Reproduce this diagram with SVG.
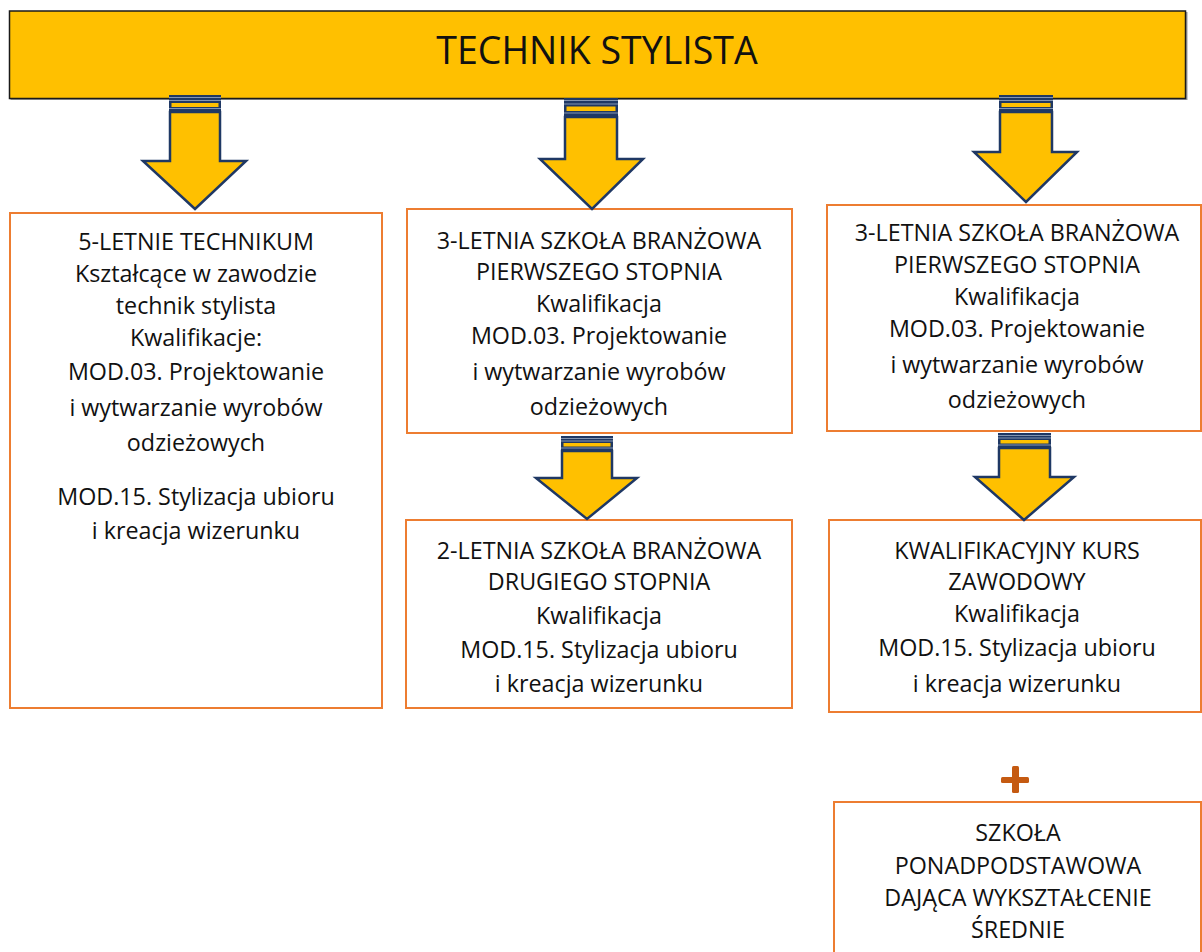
<svg xmlns="http://www.w3.org/2000/svg" width="1202" height="952" viewBox="0 0 1202 952">
<style>
.box{fill:#ffffff;stroke:#ed7d31;stroke-width:2}
.t{font-family:"Open Sans","Noto Sans",sans-serif;font-size:23.3px;fill:#111111;text-anchor:middle}
.title{font-family:"Open Sans","Noto Sans",sans-serif;font-size:37.5px;fill:#111111;text-anchor:middle}
.blk{fill:#1f3864}
.gl{stroke:#8fa0bb;stroke-width:0.9}
.ys{fill:#ffc000}
.shaft{fill:#ffc000;stroke:#1f3864;stroke-width:2.5;stroke-linejoin:miter}
</style>
<rect width="1202" height="952" fill="#ffffff"/>
<g id="title">
<rect x="10.5" y="12" width="1177" height="88" fill="#595959" opacity="0.6"/>
<rect x="9.5" y="11" width="1176" height="87.5" fill="#ffc000" stroke="#1a1a1a" stroke-width="1.5"/>
<text class="title" x="597" y="64">TECHNIK STYLISTA</text>
</g>
<g id="box1">
<rect class="box" x="10" y="213" width="372" height="495"/>
<text class="t" x="196" y="250">5-LETNIE TECHNIKUM</text>
<text class="t" x="196" y="282">Kształcące w zawodzie</text>
<text class="t" x="196" y="314">technik stylista</text>
<text class="t" x="196" y="346">Kwalifikacje:</text>
<text class="t" x="196" y="380">MOD.03. Projektowanie</text>
<text class="t" x="196" y="416">i wytwarzanie wyrobów</text>
<text class="t" x="196" y="451">odzieżowych</text>
<text class="t" x="196" y="505">MOD.15. Stylizacja ubioru</text>
<text class="t" x="196" y="539">i kreacja wizerunku</text>
</g>
<g id="box2">
<rect class="box" x="407" y="209" width="385" height="224"/>
<text class="t" x="599" y="249">3-LETNIA SZKOŁA BRANŻOWA</text>
<text class="t" x="599" y="280">PIERWSZEGO STOPNIA</text>
<text class="t" x="599" y="312">Kwalifikacja</text>
<text class="t" x="599" y="344">MOD.03. Projektowanie</text>
<text class="t" x="599" y="380">i wytwarzanie wyrobów</text>
<text class="t" x="599" y="415">odzieżowych</text>
</g>
<g id="box3">
<rect class="box" x="827" y="205" width="374" height="226"/>
<text class="t" x="1017" y="241">3-LETNIA SZKOŁA BRANŻOWA</text>
<text class="t" x="1017" y="273">PIERWSZEGO STOPNIA</text>
<text class="t" x="1017" y="305">Kwalifikacja</text>
<text class="t" x="1017" y="337">MOD.03. Projektowanie</text>
<text class="t" x="1017" y="373">i wytwarzanie wyrobów</text>
<text class="t" x="1017" y="408">odzieżowych</text>
</g>
<g id="box4">
<rect class="box" x="406" y="520" width="386" height="188"/>
<text class="t" x="599" y="559">2-LETNIA SZKOŁA BRANŻOWA</text>
<text class="t" x="599" y="590">DRUGIEGO STOPNIA</text>
<text class="t" x="599" y="624">Kwalifikacja</text>
<text class="t" x="599" y="658">MOD.15. Stylizacja ubioru</text>
<text class="t" x="599" y="692">i kreacja wizerunku</text>
</g>
<g id="box5">
<rect class="box" x="829" y="520" width="372" height="192"/>
<text class="t" x="1017" y="559">KWALIFIKACYJNY KURS</text>
<text class="t" x="1017" y="590">ZAWODOWY</text>
<text class="t" x="1017" y="622">Kwalifikacja</text>
<text class="t" x="1017" y="656">MOD.15. Stylizacja ubioru</text>
<text class="t" x="1017" y="692">i kreacja wizerunku</text>
</g>
<g id="plus">
<rect x="1001" y="777" width="28" height="6" rx="1.5" fill="#c55a11"/>
<rect x="1012" y="766" width="7" height="27" rx="1.5" fill="#c55a11"/>
</g>
<g id="box6">
<rect class="box" x="834" y="802" width="367" height="160"/>
<text class="t" x="1018" y="841">SZKOŁA</text>
<text class="t" x="1018" y="874">PONADPODSTAWOWA</text>
<text class="t" x="1018" y="906">DAJĄCA WYKSZTAŁCENIE</text>
<text class="t" x="1018" y="938">ŚREDNIE</text>
</g>
<g id="connectors">
<g id="arrow1">
<rect class="blk" x="169" y="95" width="52" height="17"/>
<line class="gl" x1="169" y1="97.5" x2="221" y2="97.5"/>
<line class="gl" x1="169" y1="100.5" x2="221" y2="100.5"/>
<rect class="ys" x="171.5" y="103" width="47" height="4"/>
<line class="gl" x1="169" y1="108.5" x2="221" y2="108.5"/>
<polygon class="shaft" points="170,112 220,112 220,161 246,161 195,209 143,161 170,161"/>
</g>
<g id="arrow2">
<rect class="blk" x="564" y="98" width="54" height="19"/>
<line class="gl" x1="564" y1="100.5" x2="618" y2="100.5"/>
<line class="gl" x1="564" y1="104" x2="618" y2="104"/>
<rect class="ys" x="566.5" y="106.5" width="49" height="4.5"/>
<line class="gl" x1="564" y1="113" x2="618" y2="113"/>
<polygon class="shaft" points="565,117 617,117 617,159 643,159 592,209 540,159 565,159"/>
</g>
<g id="arrow3">
<rect class="blk" x="999" y="95" width="54" height="17"/>
<line class="gl" x1="999" y1="97.5" x2="1053" y2="97.5"/>
<line class="gl" x1="999" y1="100.5" x2="1053" y2="100.5"/>
<rect class="ys" x="1001.5" y="103" width="49" height="4"/>
<line class="gl" x1="999" y1="108.5" x2="1053" y2="108.5"/>
<polygon class="shaft" points="1000,112 1052,112 1052,152 1077,152 1026,202 974,152 1000,152"/>
</g>
<g id="arrow4">
<rect class="blk" x="561" y="436" width="52" height="15"/>
<line class="gl" x1="561" y1="438.5" x2="613" y2="438.5"/>
<line class="gl" x1="561" y1="441" x2="613" y2="441"/>
<rect class="ys" x="563.5" y="443" width="47" height="3.5"/>
<line class="gl" x1="561" y1="448" x2="613" y2="448"/>
<polygon class="shaft" points="562,451 612,451 612,478 637,478 587,519 536,478 562,478"/>
</g>
<g id="arrow5">
<rect class="blk" x="998" y="433" width="53" height="15"/>
<line class="gl" x1="998" y1="435.5" x2="1051" y2="435.5"/>
<line class="gl" x1="998" y1="438" x2="1051" y2="438"/>
<rect class="ys" x="1000.5" y="440" width="48" height="3.5"/>
<line class="gl" x1="998" y1="445" x2="1051" y2="445"/>
<polygon class="shaft" points="999,448 1050,448 1050,477 1074,477 1024,520 975,477 999,477"/>
</g>
</g>
</svg>
